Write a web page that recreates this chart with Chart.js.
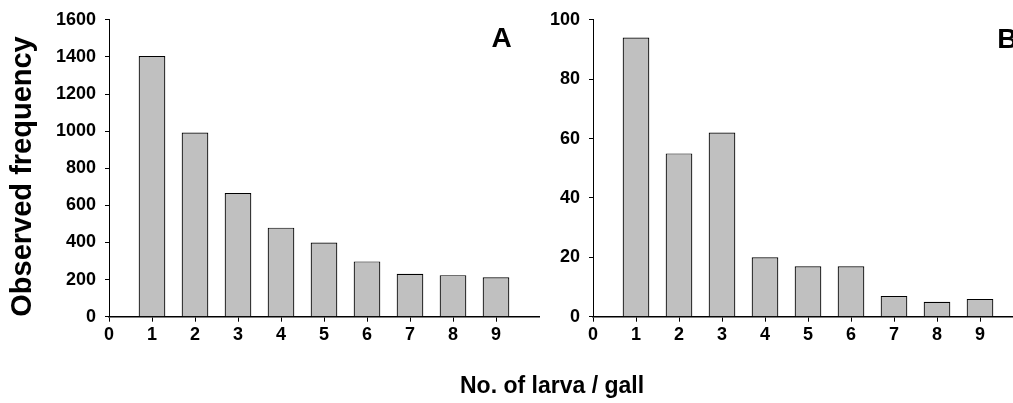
<!DOCTYPE html>
<html>
<head>
<meta charset="utf-8">
<script src="https://cdn.jsdelivr.net/npm/chart.js@4.4.1/dist/chart.umd.min.js"></script>
<style>
  html, body { margin:0; padding:0; background:#fff; width:1013px; height:403px; overflow:hidden; }
  #wrap { position:relative; width:1013px; height:403px; overflow:hidden; }
  canvas { position:absolute; top:0; }
  #cA { left:0; }
  #cB { left:545px; }
  #xtitle { position:absolute; left:460px; top:374px; font:bold 23px "Liberation Sans", Arial, sans-serif; line-height:23px; color:#000; white-space:nowrap; }
</style>
</head>
<body>
<div id="wrap">
  <canvas id="cA" width="545" height="403"></canvas>
  <canvas id="cB" width="484" height="403"></canvas>
  <div id="xtitle">No. of larva / gall</div>
</div>
<script>
// ---- data ----
const categories = [1, 2, 3, 4, 5, 6, 7, 8, 9];
const freqA = [1405, 992, 667, 480, 400, 298, 231, 224, 212];
const freqB = [94, 55, 62, 20, 17, 17, 7, 5, 6];
const xTickValues = [0, 1, 2, 3, 4, 5, 6, 7, 8, 9];
const yTicksA = [0, 200, 400, 600, 800, 1000, 1200, 1400, 1600];
const yTicksB = [0, 20, 40, 60, 80, 100];
const yTitle = 'Observed frequency';

const TICK_FONT = { family: '"Liberation Sans", Arial, sans-serif', size: 18, weight: 'bold' };

const panelLabel = {
  id: 'panelLabel',
  afterDraw(chart, args, opts) {
    const { ctx } = chart;
    const x = chart.scales.x, y = chart.scales.y;
    ctx.save();
    ctx.font = 'bold 28px "Liberation Sans", Arial, sans-serif';
    ctx.fillStyle = '#000';
    ctx.textAlign = 'center';
    ctx.textBaseline = 'alphabetic';
    ctx.fillText(opts.text, x.getPixelForValue(opts.x), y.getPixelForValue(opts.y));
    ctx.restore();
  }
};

function makeChart(id, values, yTicks, yMax, label, yAxisWidth, padLeft, withTitle) {
  const data = categories.map((c, i) => ({ x: c, y: values[i] }));
  return new Chart(document.getElementById(id), {
    type: 'bar',
    data: {
      datasets: [{
        data,
        backgroundColor: '#c0c0c0',
        borderColor: '#000',
        borderWidth: 1.2,
        borderSkipped: 'bottom',
        barPercentage: 0.62,
        categoryPercentage: 1.0
      }]
    },
    options: {
      responsive: false,
      devicePixelRatio: 1,
      animation: false,
      layout: { padding: { top: 16, right: 6, left: padLeft, bottom: 0 } },
      plugins: {
        legend: { display: false },
        tooltip: { enabled: false },
        panelLabel: label
      },
      scales: {
        x: {
          type: 'linear',
          min: 0,
          max: 10,
          offset: false,
          afterBuildTicks: s => { s.ticks = xTickValues.map(v => ({ value: v })); },
          afterFit: s => { s.height = 403 - 316.7; },
          ticks: { font: TICK_FONT, color: '#000', padding: 3, maxRotation: 0, autoSkip: false, callback: v => String(v) },
          grid: { offset: false, drawOnChartArea: false, drawTicks: true, tickLength: 5, color: '#000', lineWidth: 1 },
          border: { display: true, color: '#000', width: 1.5 }
        },
        y: {
          min: 0,
          max: yMax,
          afterBuildTicks: s => { s.ticks = yTicks.map(v => ({ value: v })); },
          afterFit: s => { s.width = yAxisWidth; },
          ticks: { font: TICK_FONT, color: '#000', padding: 9, callback: v => String(v) },
          grid: { drawOnChartArea: false, drawTicks: true, tickLength: 4, color: '#000', lineWidth: 1 },
          border: { display: true, color: '#000', width: 1 },
          title: {
            display: withTitle,
            text: yTitle,
            align: 'start',
            color: '#000',
            font: { family: '"Liberation Sans", Arial, sans-serif', size: 29, weight: 'bold' },
            padding: { top: 0, bottom: 0 }
          }
        }
      }
    },
    plugins: [panelLabel]
  });
}

makeChart('cA', freqA, yTicksA, 1600, { text: 'A', x: 9.13, y: 1451 }, 103, 6, true);
makeChart('cB', freqB, yTicksB, 100, { text: 'B', x: 9.635, y: 90.4 }, 48, 0, false);
</script>
</body>
</html>
